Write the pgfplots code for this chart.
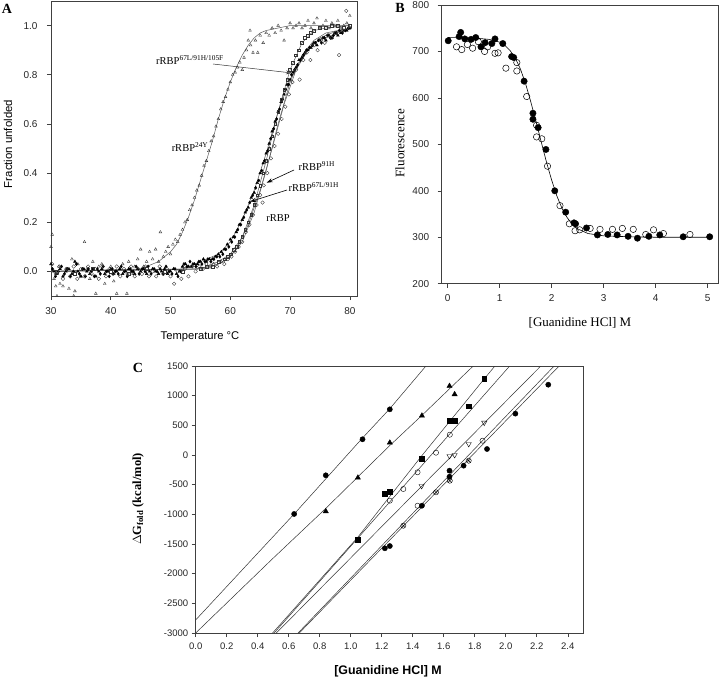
\documentclass[border=0pt]{standalone}
\usepackage{pgfplots}
\pgfplotsset{compat=1.18}
\usepackage{fontspec}
\setmainfont{Liberation Sans}
\newfontfamily\tnr{Liberation Serif}
\usetikzlibrary{arrows.meta}
\begin{document}
\begin{tikzpicture}[x=1pt,y=1pt]
\path[use as bounding box] (0,0) rectangle (720,-679);
\pgfplotsset{
 every axis/.append style={scale only axis,
   axis line style={black!75,line width=0.6pt},
   tick style={black!75,line width=0.6pt},
   tick align=outside, xtick pos=left, ytick pos=left,
   major tick length=4pt,
   /pgf/number format/assume math mode=true,
   tick label style={font=\fontsize{10}{12}\selectfont, text=black!85},
   clip=true}
}
% ---------------- Panel A ----------------
\begin{axis}[at={(51pt,-296pt)}, anchor=south west, width=306pt, height=295pt,
  xmin=30, xmax=81.2, ymin=-0.1, ymax=1.1,
  xtick={30,40,50,60,70,80},
  ytick={0,0.2,0.4,0.6,0.8,1.0}, yticklabels={0.0,0.2,0.4,0.6,0.8,1.0},
  yticklabel style={xshift=-6pt}, xticklabel style={yshift=-4pt}]
% fit lines
\addplot[black!65, line width=0.5pt] coordinates {(30,0)(45,0.01)(48,0.04)(50,0.08)(51,0.11)(52,0.16)(53,0.22)(54,0.29)(55,0.37)(56,0.45)(57,0.53)(58,0.62)(59,0.70)(60,0.77)(61,0.83)(62,0.88)(63,0.92)(64,0.95)(65,0.97)(66,0.98)(68,0.99)(70,1.0)(80,1.0)};
\addplot[black!65, line width=0.5pt] coordinates {(30,0)(52,0.01)(55,0.04)(58,0.07)(60,0.12)(62,0.21)(64,0.33)(66,0.48)(68,0.65)(70,0.78)(72,0.87)(74,0.93)(76,0.95)(78,0.97)(80,0.99)};
\addplot[black!65, line width=0.5pt] coordinates {(30,0)(54,0.01)(57,0.02)(59,0.04)(61,0.09)(63,0.19)(65,0.33)(67,0.50)(69,0.68)(71,0.82)(73,0.90)(75,0.95)(77,0.97)(80,0.99)};
\addplot[black!65, line width=0.5pt] coordinates {(30,0)(55,0.01)(58,0.04)(60,0.07)(62,0.14)(64,0.27)(66,0.45)(68,0.65)(70,0.82)(72,0.93)(74,0.98)(76,0.99)(80,1.0)};
\addplot[black!65, line width=0.5pt] coordinates {(30,0)(55,0.01)(58,0.03)(60,0.06)(62,0.12)(64,0.24)(66,0.41)(68,0.60)(70,0.77)(72,0.88)(74,0.94)(76,0.97)(80,0.99)};
% 24Y open triangles
\addplot[only marks, mark=triangle, mark size=1.6pt, black!80, mark options={line width=0.35pt}] coordinates {
(30.0,0.10)(30.2,0.15)(30.5,-0.03)(30.8,-0.06)(31.0,-0.10)(31.3,0.02)(31.5,-0.05)(32.0,-0.06)(32.5,0.01)(33.0,-0.07)(33.5,0.05)(33.8,-0.10)(34.0,-0.08)(34.5,0.03)(35.0,-0.02)(35.6,0.12)(36.0,0.01)(36.5,-0.03)(37.0,0.04)(37.5,-0.09)(38.0,0.02)(38.5,0.03)(39.0,-0.05)(39.5,0.00)(40.0,0.02)(40.5,-0.04)(41.0,-0.09)(41.5,0.01)(42.0,0.03)(42.7,-0.09)(43.0,0.04)(43.5,-0.01)(44.0,0.02)(44.5,0.05)(45.0,0.09)(45.5,0.02)(46.0,0.04)(46.5,0.08)(47.0,0.05)(47.5,0.09)(48.0,0.04)(48.3,0.16)(48.8,0.06)(49.2,0.08)(49.6,0.10)(50.0,0.07)(50.4,0.11)(50.8,0.13)(51.2,0.12)(51.6,0.15)(52.0,0.17)(52.4,0.20)(52.8,0.21)(53.2,0.25)(53.6,0.27)(54.0,0.30)(54.4,0.33)(54.8,0.35)(55.2,0.39)(55.6,0.43)(56.0,0.45)(56.4,0.49)(56.8,0.53)(57.2,0.55)(57.6,0.59)(58.0,0.62)(58.4,0.66)(58.8,0.69)(59.2,0.71)(59.6,0.74)(60.0,0.77)(60.4,0.80)(60.8,0.81)(61.2,0.83)(61.6,0.85)(62.0,0.82)(62.3,0.87)(62.7,0.90)(63.0,0.94)(63.3,0.98)(63.4,0.92)(63.8,0.89)(64.2,0.94)(64.6,0.89)(65.0,0.96)(65.5,0.93)(66.0,0.97)(66.5,0.96)(67.0,0.99)(67.5,0.97)(68.0,1.00)(68.5,0.98)(69.0,0.94)(69.5,0.99)(70.0,1.01)(70.5,0.99)(71.0,1.00)(71.5,1.01)(72.0,0.99)(72.5,1.00)(73.0,1.02)(73.5,0.99)(74.0,1.01)(74.5,1.03)(75.0,0.99)(75.5,1.00)(76.0,1.02)(76.5,0.99)(77.0,1.01)(77.5,1.00)(78.0,1.02)(78.5,0.99)(79.0,1.00)(79.5,1.01)(80.0,1.04)};
% filled triangles
\addplot[only marks, mark=triangle*, mark size=1.6pt, black] coordinates {
(30.0,0.03)(30.5,0.00)(31.0,-0.01)(31.5,0.01)(32.0,-0.02)(32.5,0.00)(33.0,0.01)(33.5,-0.01)(34.0,0.04)(34.5,0.00)(35.0,-0.02)(35.5,0.01)(36.0,0.00)(36.5,-0.01)(37.0,0.01)(37.5,-0.02)(38.0,0.00)(38.5,0.01)(39.0,-0.01)(39.5,0.00)(40.0,0.01)(40.5,-0.01)(41.0,0.00)(41.5,0.01)(42.0,-0.01)(42.5,0.00)(43.0,0.01)(43.5,0.00)(44.0,-0.01)(44.5,0.01)(45.0,0.00)(45.5,0.01)(46.0,-0.01)(46.5,0.00)(47.0,0.01)(47.5,0.00)(48.0,-0.01)(48.5,0.00)(49.0,0.01)(49.5,-0.01)(50.0,0.00)(50.5,0.01)(51.0,-0.01)(51.5,0.00)(52.0,0.02)(52.5,0.03)(53.0,0.02)(53.5,0.02)(54.0,0.03)(54.5,0.03)(55.0,0.04)(55.5,0.05)(56.0,0.04)(56.5,0.05)(57.0,0.05)(57.5,0.06)(58.0,0.07)(58.5,0.08)(59.0,0.09)(59.5,0.11)(60.0,0.13)(60.5,0.14)(61.0,0.16)(61.5,0.19)(62.0,0.21)(62.5,0.24)(63.0,0.26)(63.5,0.30)(64.0,0.32)(64.5,0.36)(65.0,0.40)(65.5,0.44)(66.0,0.48)(66.5,0.52)(67.0,0.57)(67.5,0.61)(68.0,0.65)(68.5,0.69)(69.0,0.72)(69.5,0.76)(70.0,0.78)(70.5,0.81)(71.0,0.83)(71.5,0.86)(72.0,0.87)(72.5,0.89)(73.0,0.90)(73.5,0.91)(74.0,0.93)(74.5,0.92)(75.0,0.94)(75.5,0.95)(76.0,0.94)(76.5,0.96)(77.0,0.95)(77.5,0.97)(78.0,0.96)(78.5,0.97)(79.0,0.98)(79.5,0.98)(80.0,0.99)};
% filled diamonds
\addplot[only marks, mark=diamond*, mark size=1.6pt, black] coordinates {
(30.25,0.01)(30.75,-0.02)(31.25,0.00)(31.75,0.02)(32.25,-0.01)(32.75,0.01)(33.25,-0.02)(33.75,0.00)(34.25,0.03)(34.75,-0.01)(35.25,0.01)(35.75,-0.02)(36.25,0.01)(36.75,0.00)(37.25,-0.02)(37.75,0.01)(38.25,-0.01)(38.75,0.02)(39.25,0.00)(39.75,-0.02)(40.25,0.01)(40.75,0.00)(41.25,-0.01)(41.75,0.02)(42.25,0.00)(42.75,-0.02)(43.25,0.01)(43.75,0.00)(44.25,0.02)(44.75,-0.01)(45.25,0.01)(45.75,0.00)(46.25,0.02)(46.75,-0.01)(47.25,0.01)(47.75,0.00)(48.25,0.01)(48.75,-0.01)(49.25,0.02)(49.75,0.00)(50.25,-0.01)(50.75,0.01)(51.25,-0.02)(51.75,0.00)(52.25,0.03)(52.75,0.02)(53.25,0.04)(53.75,0.03)(54.25,0.02)(54.75,0.04)(55.25,0.03)(55.75,0.04)(56.25,0.05)(56.75,0.04)(57.25,0.05)(57.75,0.06)(58.25,0.06)(58.75,0.07)(59.25,0.09)(59.75,0.10)(60.25,0.12)(60.75,0.14)(61.25,0.17)(61.75,0.19)(62.25,0.22)(62.75,0.25)(63.25,0.28)(63.75,0.31)(64.25,0.34)(64.75,0.37)(65.25,0.41)(65.75,0.45)(66.25,0.49)(66.75,0.54)(67.25,0.58)(67.75,0.62)(68.25,0.66)(68.75,0.70)(69.25,0.74)(69.75,0.76)(70.25,0.80)(70.75,0.82)(71.25,0.84)(71.75,0.86)(72.25,0.88)(72.75,0.90)(73.25,0.91)(73.75,0.92)(74.25,0.93)(74.75,0.94)(75.25,0.93)(75.75,0.95)(76.25,0.96)(76.75,0.95)(77.25,0.96)(77.75,0.97)(78.25,0.98)(78.75,0.97)(79.25,0.98)(79.75,0.99)};
% open squares
\addplot[only marks, mark=square, mark size=1.4pt, black!80, mark options={line width=0.35pt}] coordinates {
(31,0.00)(34,-0.01)(37,0.01)(40,0.00)(43,-0.01)(46,0.01)(49,0.00)(52,0.00)(55.0,0.01)(56.0,0.02)(57.0,0.02)(58.0,0.04)(59.0,0.05)(59.5,0.06)(60.0,0.07)(60.5,0.09)(61.0,0.10)(61.5,0.12)(62.0,0.14)(62.5,0.17)(63.0,0.20)(63.5,0.23)(64.0,0.27)(64.5,0.31)(65.0,0.35)(65.5,0.40)(66.0,0.45)(66.5,0.50)(67.0,0.55)(67.5,0.60)(68.0,0.65)(68.5,0.70)(69.0,0.74)(69.5,0.78)(70.0,0.82)(70.5,0.85)(71.0,0.88)(71.5,0.90)(72.0,0.93)(72.5,0.95)(73.0,0.96)(73.5,0.97)(74.0,0.98)(75.0,0.99)(76.0,0.99)(77.0,1.00)(78.0,1.00)(79.0,0.99)(80.0,1.00)};
% open circles
\addplot[only marks, mark=o, mark size=1.8pt, black!80, mark options={line width=0.35pt}] coordinates {
(30.2,0.03)(30.8,-0.01)(31.4,0.02)(32.0,-0.03)(32.6,0.01)(33.2,-0.02)(33.8,0.02)(34.4,-0.03)(35.0,0.01)(35.6,-0.02)(36.2,0.02)(36.8,-0.01)(37.4,0.01)(38.0,-0.03)(38.6,0.02)(39.2,-0.02)(39.8,0.01)(40.4,-0.01)(41.0,0.02)(41.6,-0.02)(42.2,0.01)(42.8,-0.01)(43.4,0.02)(44.0,-0.02)(44.6,0.01)(45.2,-0.01)(45.8,0.02)(46.4,-0.02)(47.0,0.00)(47.6,-0.02)(48.2,0.02)(48.8,-0.01)(49.4,0.01)(50.0,-0.02)(50.6,-0.05)(51.2,0.00)(51.8,-0.03)(52.4,0.01)(53.0,-0.02)(53.6,0.02)(54.2,0.00)(54.8,0.02)(55.4,0.01)(56.0,0.03)(56.6,0.02)(57.2,0.03)(57.8,0.02)(58.4,0.04)(59.0,0.03)(59.6,0.05)(60.2,0.06)(60.8,0.08)(61.4,0.10)(62.0,0.12)(62.6,0.16)(63.2,0.19)(63.8,0.23)(64.4,0.27)(65.0,0.31)(65.4,0.28)(65.6,0.35)(66.2,0.40)(66.8,0.46)(67.4,0.51)(68.0,0.56)(68.6,0.62)(69.2,0.67)(69.8,0.72)(70.4,0.77)(71.0,0.82)(71.6,0.78)(72.2,0.86)(72.8,0.89)(73.4,0.86)(74.0,0.92)(74.6,0.90)(75.2,0.94)(75.8,0.93)(76.4,0.96)(77.0,0.95)(77.6,0.97)(78.2,0.88)(78.8,0.98)(79.4,1.06)(80.0,0.99)};
\end{axis}
% ---------------- Panel B ----------------
\begin{axis}[at={(441.7pt,-283.7pt)}, anchor=south west, width=276.3pt, height=278.7pt,
  xmin=-0.115, xmax=5.2, ymin=200, ymax=800,
  xtick={0,1,2,3,4,5}, ytick={200,300,400,500,600,700,800},
  yticklabel style={xshift=-5pt}, xticklabel style={yshift=-3pt}]
\addplot[black, line width=0.6pt] coordinates {(0,730)(0.5,729)(0.8,726)(1.0,720)(1.1,713)(1.2,702)(1.3,686)(1.4,662)(1.5,630)(1.6,591)(1.7,549)(1.8,505)(1.9,462)(2.0,423)(2.1,389)(2.2,362)(2.3,342)(2.4,327)(2.5,318)(2.7,308)(3.0,303)(3.5,301)(4.0,300)(5.05,300)};
\addplot[only marks, mark=o, mark size=3.2pt, black, mark options={line width=0.5pt, fill=white}] coordinates {
(0.17,710)(0.27,704)(0.38,715)(0.48,707)(0.59,721)(0.71,700)(0.77,710)(0.91,696)(0.97,697)(1.12,664)(1.33,676)(1.33,658)(1.52,603)(1.71,541)(1.71,516)(1.81,512)(1.92,453)(2.16,368)(2.34,329)(2.45,314)(2.54,316)(2.74,319)(2.93,317)(3.17,317)(3.36,319)(3.57,317)(3.81,306)(3.96,316)(4.15,308)(4.66,306)};
\addplot[only marks, mark=*, mark size=3.2pt, black] coordinates {
(0.01,723)(0.22,732)(0.25,741)(0.33,727)(0.45,726)(0.54,730)(0.64,710)(0.72,719)(0.85,717)(0.91,727)(1.06,717)(1.23,689)(1.27,687)(1.47,636)(1.64,567)(1.64,554)(1.74,536)(1.89,489)(2.06,400)(2.27,354)(2.43,331)(2.46,329)(2.67,320)(2.88,305)(3.08,306)(3.26,305)(3.47,302)(3.65,298)(3.87,302)(4.08,305)(4.53,301)(5.04,301)};
\end{axis}
% ---------------- Panel C ----------------
\begin{axis}[at={(195.7pt,-633pt)}, anchor=south west, width=387.6pt, height=267pt,
  xmin=0, xmax=2.5, ymin=-3000, ymax=1500,
  tick label style={font=\fontsize{9.5}{11}\selectfont},
  xtick={0,0.2,0.4,0.6,0.8,1.0,1.2,1.4,1.6,1.8,2.0,2.2,2.4},
  xticklabels={0.0,0.2,0.4,0.6,0.8,1.0,1.2,1.4,1.6,1.8,2.0,2.2,2.4},
  ytick={-3000,-2500,-2000,-1500,-1000,-500,0,500,1000,1500},
  yticklabels={-3000,-2500,-2000,-1500,-1000,-500,0,500,1000,1500},
  xticklabel style={yshift=-2pt}]
\addplot[black!80, line width=0.5pt] coordinates {(0,-2780)(0.64,-980)(1.07,270)(1.25,775)(1.485,1500)};
\addplot[black!80, line width=0.5pt] coordinates {(0,-3000)(0.485,-1775)(0.839,-900)(1.252,160)(1.459,668)(1.79,1500)};
\addplot[black!80, line width=0.5pt] coordinates {(0.496,-3000)(1.044,-1390)(1.459,-10)(1.861,1283)(1.93,1500)};
\addplot[black!80, line width=0.5pt] coordinates {(0.506,-3000)(1.252,-790)(1.639,356)(2.025,1500)};
\addplot[black!80, line width=0.5pt] coordinates {(0.52,-3000)(1.457,-528)(1.861,538)(2.226,1500)};
\addplot[black!80, line width=0.5pt] coordinates {(0.66,-3000)(1.339,-1150)(1.85,242)(2.312,1500)};
\addplot[black!80, line width=0.5pt] coordinates {(0.668,-3000)(1.22,-1518)(2.062,743)(2.344,1500)};
\addplot[only marks, mark=*, mark size=2.6pt, black] coordinates {(0.635,-994)(0.839,-342)(1.076,265)(1.252,770)};
\addplot[only marks, mark=triangle*, mark size=3pt, black] coordinates {(0.839,-949)(1.046,-383)(1.252,208)(1.459,663)(1.637,1163)(1.67,1023)};
\addplot[only marks, mark=square*, mark size=2.4pt, black] coordinates {(1.044,-1427)(1.22,-657)(1.252,-624)(1.459,-56)(1.637,573)(1.67,573)(1.761,821)(1.861,1281)};
\addplot[only marks, mark=o, mark size=2.6pt, black, mark options={fill=white, line width=0.4pt}] coordinates {(1.252,-770)(1.339,-573)(1.431,-291)(1.55,39)(1.639,342)(1.431,-855)(1.85,241)};
\addplot[only marks, mark=triangle, mark size=3pt, black, mark options={rotate=180, fill=white, line width=0.4pt}] coordinates {(1.457,-522)(1.637,-17)(1.67,0)(1.761,186)(1.861,545)};
\addplot[only marks, mark=otimes, mark size=2.6pt, black, mark options={fill=white, line width=0.4pt}] coordinates {(1.339,-1192)(1.55,-629)(1.639,-433)(1.761,-96)};
\addplot[only marks, mark=*, mark size=2.6pt, black] coordinates {(1.22,-1572)(1.252,-1534)(1.459,-855)(1.637,-264)(1.637,-366)(1.728,-180)(1.879,101)(2.062,697)(2.274,1185)};
\end{axis}
% ---------------- Labels ----------------
\node[font=\tnr\bfseries\fontsize{14}{16}\selectfont] at (7,-9) {A};
\node[font=\tnr\bfseries\fontsize{14}{16}\selectfont] at (400,-8) {B};
\node[font=\tnr\bfseries\fontsize{14}{16}\selectfont] at (138,-368) {C};
\node[rotate=90, font=\fontsize{11.4}{13}\selectfont] at (8,-144) {Fraction unfolded};
\node[font=\fontsize{11.2}{13}\selectfont] at (200,-337) {Temperature \textdegree C};
\node[rotate=90, font=\tnr\fontsize{13}{15}\selectfont] at (400,-143) {Fluorescence};
\node[font=\tnr\fontsize{13}{15}\selectfont] at (580,-323) {[Guanidine HCl] M};
\node[rotate=90, font=\tnr\bfseries\fontsize{12.5}{14}\selectfont] at (138,-499) {$\Delta$G\textsubscript{fold} (kcal/mol)};
\node[font=\bfseries\fontsize{12.4}{14}\selectfont] at (388,-671) {[Guanidine HCl] M};
% panel A annotations
\begin{scope}[font=\tnr\fontsize{10.5}{12}\selectfont]
\node at (190,-60) {rRBP\textsuperscript{67L/91H/105F}};
\node at (190,-147) {rRBP\textsuperscript{24Y}};
\node[anchor=west] at (295,-166) {rRBP\textsuperscript{91H}};
\node[anchor=west] at (285,-187) {rRBP\textsuperscript{67L/91H}};
\node at (278,-218) {rRBP};
\end{scope}
\draw[black!80, line width=0.5pt, -{Stealth[open,length=6pt,width=4pt]}] (213,-64) -- (292,-73);
\draw[black, line width=0.6pt, -{Stealth[length=6pt,width=4pt]}] (294,-170) -- (266.7,-182.7);
\draw[black, line width=0.6pt, -{Stealth[length=6pt,width=4pt]}] (287,-190) -- (250,-201.7);
\end{tikzpicture}
\end{document}
